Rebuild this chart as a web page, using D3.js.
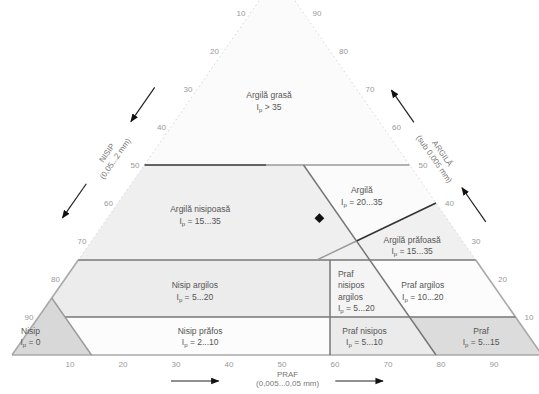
<!DOCTYPE html>
<html>
<head>
<meta charset="utf-8">
<script src="https://cdn.jsdelivr.net/npm/d3@7"></script>
<style>
  body { margin: 0; background: #fff; }
  svg { display: block; }
  text { font-family: "Liberation Sans", Arial, sans-serif; }
  .zone-label { font-size: 8.5px; fill: #555; }
  .tick-label { font-size: 8px; fill: #999; }
  .axis-title { font-size: 8px; fill: #777; }
  .b-dark { stroke: #333; stroke-width: 1.6; }
  .b-mid { stroke: #777; stroke-width: 1.5; }
  .b-light { stroke: #9a9a9a; stroke-width: 1.4; }
  .side-faint { stroke: #d6d6d6; stroke-width: 1; stroke-dasharray: 1.5 3; }
  .side-solid { stroke: #a8a8a8; stroke-width: 1.6; }
</style>
</head>
<body>
<svg id="chart" width="539" height="394"></svg>
<script>
// all ternary points are [nisip, praf, argila] in %
const regionNames = ['Argilă grasă', 'Argilă nisipoasă', 'Argilă', 'Argilă prăfoasă', 'Nisip argilos',
  'Nisip prăfos', 'Praf\nnisipos\nargilos', 'Praf argilos', 'Praf nisipos', 'Praf', 'Nisip'];
const regionIp = ['> 35', '= 15...35', '= 20...35', '= 15...35', '= 5...20',
  '= 2...10', '= 5...20', '= 10...20', '= 5...10', '= 5...15', '= 0'];
const regionPolygons = [
  [[0, 0, 100], [50, 0, 50], [0, 50, 50]],
  [[50, 0, 50], [20, 30, 50], [20, 50, 30], [30, 45, 25], [75, 0, 25]],
  [[20, 30, 50], [0, 50, 50], [0, 60, 40], [20, 50, 30]],
  [[20, 50, 30], [0, 60, 40], [0, 75, 25], [30, 45, 25]],
  [[75, 0, 25], [27.5, 47.5, 25], [35, 55, 10], [85, 5, 10], [85, 0, 15]],
  [[85, 5, 10], [35, 55, 10], [40, 60, 0], [85, 15, 0]],
  [[27.5, 47.5, 25], [20, 55, 25], [20, 70, 10], [35, 55, 10]],
  [[20, 55, 25], [0, 75, 25], [0, 90, 10], [20, 70, 10]],
  [[35, 55, 10], [20, 70, 10], [20, 80, 0], [40, 60, 0]],
  [[20, 70, 10], [0, 90, 10], [0, 100, 0], [20, 80, 0]],
  [[100, 0, 0], [85, 0, 15], [85, 15, 0]]
];
const regionFill = ['#fbfbfb', '#efefef', '#fbfbfb', '#f0f0f0', '#ececec',
  '#fcfcfc', '#f4f4f4', '#fcfcfc', '#ebebeb', '#dcdcdc', '#d8d8d8'];
const labelAnchors = [[18, 15, 67], [46, 17, 37], [13, 45, 42], [10, 61, 29], [57, 26, 17],
  [62, 33, 5], [30, 53, 17], [14, 69, 17], [31, 64, 5], [9, 86, 5], [94, 1, 5]];

const boundaries = [
  { from: [50, 0, 50], to: [27, 23, 50], cls: 'b-dark' },
  { from: [27, 23, 50], to: [0, 50, 50], cls: 'b-light' },
  { from: [75, 0, 25], to: [0, 75, 25], cls: 'b-mid' },
  { from: [85, 5, 10], to: [0, 90, 10], cls: 'b-mid' },
  { from: [85, 0, 15], to: [85, 15, 0], cls: 'b-light' },
  { from: [20, 30, 50], to: [20, 80, 0], cls: 'b-mid' },
  { from: [27.5, 47.5, 25], to: [40, 60, 0], cls: 'b-mid' },
  { from: [0, 60, 40], to: [20, 50, 30], cls: 'b-dark' },
  { from: [20, 50, 30], to: [30, 45, 25], cls: 'b-light' }
];
const sides = [
  { from: [0, 0, 100], to: [75, 0, 25], cls: 'side-faint' },
  { from: [75, 0, 25], to: [100, 0, 0], cls: 'side-solid' },
  { from: [0, 0, 100], to: [0, 75, 25], cls: 'side-faint' },
  { from: [0, 75, 25], to: [0, 100, 0], cls: 'side-solid' },
  { from: [100, 0, 0], to: [0, 100, 0], cls: 'side-solid' }
];

const samplePoint = [24, 40, 36];
const tickValues = [10, 20, 30, 40, 50, 60, 70, 80, 90];
const axisTitles = {
  praf: ['PRAF', '(0,005...0,05 mm)'],
  nisip: ['NISIP', '(0,05...2 mm)'],
  argila: ['ARGILĂ', '(sub 0,005 mm)']
};

const svg = d3.select('#chart');
const xScale = d3.scaleLinear().domain([0, 100]).range([12, 542]);
const yScale = d3.scaleLinear().domain([0, 100]).range([355, -25]);
const proj = ([s, p, a]) => [xScale(p + a / 2), yScale(a)];

// side geometry for offsets along the left / right edges
const A = proj([100, 0, 0]), B = proj([0, 100, 0]), C = proj([0, 0, 100]);
function sideFrame(p0, p1, outward) {
  const dx = p1[0] - p0[0], dy = p1[1] - p0[1];
  const len = Math.hypot(dx, dy);
  const u = [dx / len, dy / len];
  const n = outward === 'left' ? [u[1], -u[0]] : [-u[1], u[0]];
  return { u, n, angle: Math.atan2(dy, dx) * 180 / Math.PI };
}
const leftFrame = sideFrame(A, C, 'left');
const rightFrame = sideFrame(B, C, 'right');
const offPt = (pt, frame, d) => [pt[0] + frame.n[0] * d, pt[1] + frame.n[1] * d];

// zones
svg.append('g')
  .selectAll('path')
  .data(regionPolygons)
  .enter()
  .append('path')
  .attr('d', d => 'M' + d.map(proj).join('L') + 'Z')
  .attr('fill', (d, i) => regionFill[i])
  .attr('stroke', 'none');

// triangle sides
svg.append('g')
  .selectAll('line')
  .data(sides)
  .enter()
  .append('line')
  .attr('class', d => d.cls)
  .attr('x1', d => proj(d.from)[0]).attr('y1', d => proj(d.from)[1])
  .attr('x2', d => proj(d.to)[0]).attr('y2', d => proj(d.to)[1]);

// zone boundaries
svg.append('g')
  .selectAll('line')
  .data(boundaries)
  .enter()
  .append('line')
  .attr('class', d => d.cls)
  .attr('x1', d => proj(d.from)[0]).attr('y1', d => proj(d.from)[1])
  .attr('x2', d => proj(d.to)[0]).attr('y2', d => proj(d.to)[1]);

// zone labels
const lineH = 11.5;
regionNames.forEach((name, i) => {
  const lines = name.split('\n');
  const [x, y] = proj(labelAnchors[i]);
  const multi = lines.length > 1;
  const t = svg.append('text')
    .attr('class', 'zone-label')
    .attr('text-anchor', multi ? 'start' : 'middle')
    .attr('x', x)
    .attr('y', y - ((lines.length + 1) * lineH) / 2 + lineH * 0.8);
  lines.forEach((l, k) => {
    t.append('tspan').attr('x', x).attr('dy', k === 0 ? 0 : lineH).text(l);
  });
  t.append('tspan').attr('x', x).attr('dy', lineH).text('I');
  t.append('tspan').attr('font-size', '6px').attr('dy', 2).text('p');
  t.append('tspan').attr('dy', -2).text(' ' + regionIp[i]);
});

// sample point
const [px, py] = proj(samplePoint);
svg.append('path')
  .attr('d', d3.symbol().type(d3.symbolSquare).size(48)())
  .attr('transform', `translate(${px},${py})rotate(45)`)
  .attr('fill', '#111');

// tick labels
svg.append('g')
  .selectAll('text')
  .data(tickValues)
  .enter()
  .append('text')
  .attr('class', 'tick-label')
  .attr('text-anchor', 'middle')
  .attr('x', d => proj([100 - d, d, 0])[0] + 5)
  .attr('y', d => proj([100 - d, d, 0])[1] + 12)
  .text(d => d);

svg.append('g')
  .selectAll('text')
  .data(tickValues)
  .enter()
  .append('text')
  .attr('class', 'tick-label')
  .attr('text-anchor', 'end')
  .attr('x', d => proj([d, 0, 100 - d])[0] - 5)
  .attr('y', d => proj([d, 0, 100 - d])[1] + 3)
  .text(d => d);

svg.append('g')
  .selectAll('text')
  .data(tickValues)
  .enter()
  .append('text')
  .attr('class', 'tick-label')
  .attr('text-anchor', 'start')
  .attr('x', d => proj([0, 100 - d, d])[0] + 9)
  .attr('y', d => proj([0, 100 - d, d])[1] + 3)
  .text(d => d);

// arrows
svg.append('defs').append('marker')
  .attr('id', 'head')
  .attr('viewBox', '0 0 10 10')
  .attr('refX', 9).attr('refY', 5)
  .attr('markerWidth', 7).attr('markerHeight', 7)
  .attr('orient', 'auto')
  .append('path')
  .attr('d', 'M0,1L10,5L0,9Z')
  .attr('fill', '#111');

function arrow(p0, p1) {
  svg.append('line')
    .attr('x1', p0[0]).attr('y1', p0[1])
    .attr('x2', p1[0]).attr('y2', p1[1])
    .attr('stroke', '#222').attr('stroke-width', 1.2)
    .attr('marker-end', 'url(#head)');
}
const leftPt = (a, d) => offPt(proj([100 - a, 0, a]), leftFrame, d);
const rightPt = (a, d) => offPt(proj([0, 100 - a, a]), rightFrame, d);
arrow(leftPt(65, 36), leftPt(56, 36));
arrow(leftPt(39.5, 37), leftPt(30.5, 37));
arrow(rightPt(57, 28), rightPt(65.5, 28));
arrow(rightPt(30.5, 30), rightPt(39.5, 30));

// bottom title
const by = yScale(0);
arrow([xScale(30), by + 26], [xScale(39), by + 26]);
arrow([xScale(61), by + 26], [xScale(70), by + 26]);
svg.append('text').attr('class', 'axis-title').attr('text-anchor', 'middle')
  .attr('x', xScale(52)).attr('y', by + 22).text(axisTitles.praf[0]);
svg.append('text').attr('class', 'axis-title').attr('text-anchor', 'middle')
  .attr('x', xScale(52)).attr('y', by + 31).text(axisTitles.praf[1]);

// side titles
function sideTitle(pt, angle, lines) {
  const g = svg.append('g').attr('transform', `translate(${pt[0]},${pt[1]})rotate(${angle})`);
  lines.forEach((l, k) => {
    g.append('text').attr('class', 'axis-title').attr('text-anchor', 'middle')
      .attr('y', (k - 0.5) * 10 + 3).text(l);
  });
}
sideTitle(leftPt(47.5, 33), leftFrame.angle, axisTitles.nisip);
sideTitle(rightPt(48, 29), rightFrame.angle + 180, axisTitles.argila);
</script>
</body>
</html>
